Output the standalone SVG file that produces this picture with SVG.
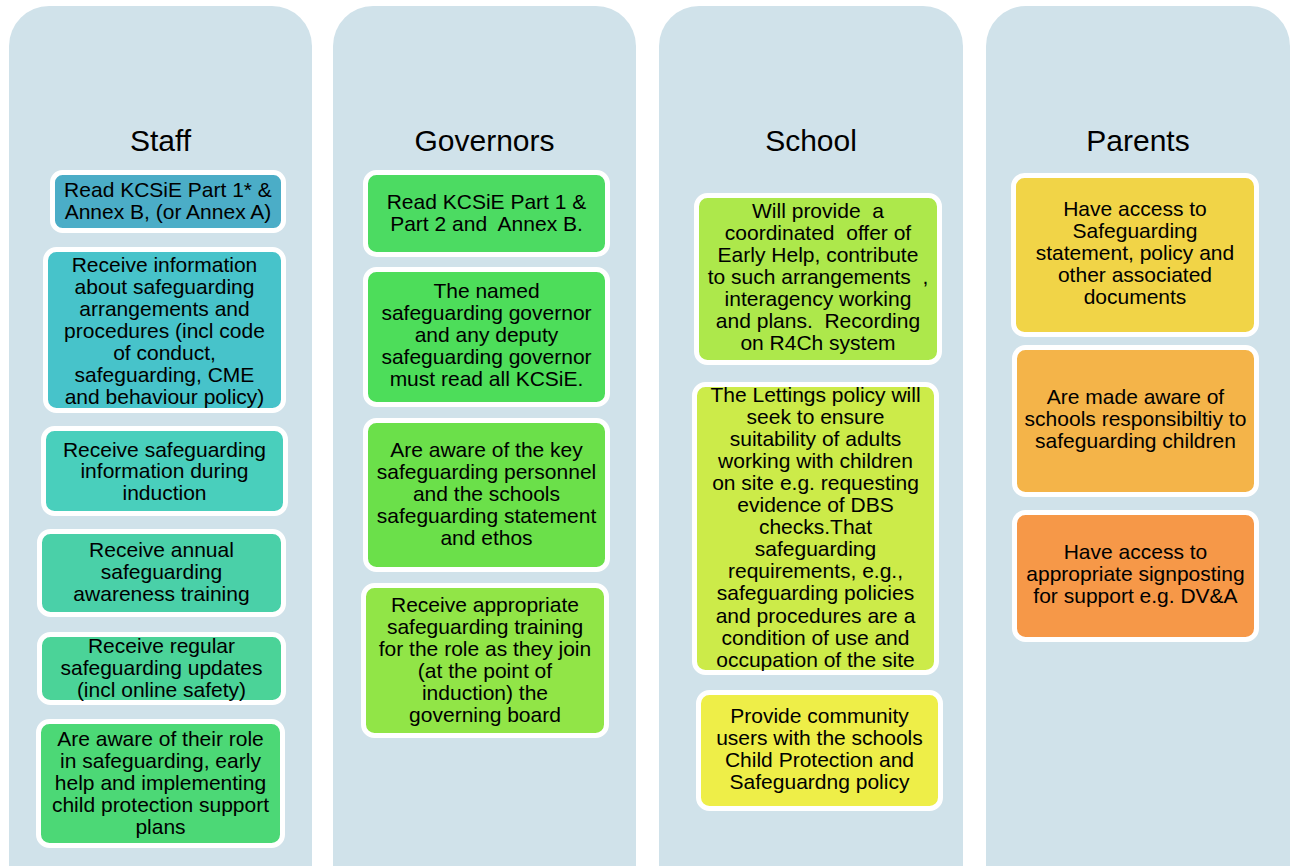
<svg xmlns="http://www.w3.org/2000/svg" width="1295" height="866" viewBox="0 0 1295 866">
<style>
.col{fill:#D0E2EA}
.title{font-family:"Liberation Sans",Arial,sans-serif;font-size:30px;fill:#000;text-anchor:middle}
.box{stroke:#fff;stroke-width:5}
.t{font-family:"Liberation Sans",Arial,sans-serif;font-size:21px;fill:#000;text-anchor:middle;white-space:pre}
</style>
<rect width="1295" height="866" fill="#fff"/>
<g id="columns">
<rect class="col" x="9" y="6" width="303" height="900" rx="40"/>
<rect class="col" x="333" y="6" width="303" height="900" rx="40"/>
<rect class="col" x="659" y="6" width="304" height="900" rx="40"/>
<rect class="col" x="986" y="6" width="304" height="900" rx="40"/>
</g>
<g id="titles">
<text class="title" x="160.5" y="151">Staff</text>
<text class="title" x="484.5" y="151">Governors</text>
<text class="title" x="811" y="151">School</text>
<text class="title" x="1138" y="151">Parents</text>
</g>
<g id="connectors"></g>
<g id="staff1"><rect class="box" x="52.5" y="172.5" width="231" height="58" rx="10" fill="#4BADC7"/>
<text class="t" y="197"><tspan x="168">Read KCSiE Part 1* &amp;</tspan><tspan x="168" dy="21.5">Annex B, (or Annex A)</tspan></text></g>
<g id="staff2"><rect class="box" x="45.5" y="249.5" width="238" height="161" rx="11" fill="#47C3CA"/>
<text class="t" y="271.7"><tspan x="164.5">Receive information</tspan><tspan x="164.5" dy="22">about safeguarding</tspan><tspan x="164.5" dy="22">arrangements and</tspan><tspan x="164.5" dy="22">procedures (incl code</tspan><tspan x="164.5" dy="22">of conduct,</tspan><tspan x="164.5" dy="22">safeguarding, CME</tspan><tspan x="164.5" dy="22">and behaviour policy)</tspan></text></g>
<g id="staff3"><rect class="box" x="43.5" y="428.5" width="242" height="85" rx="11" fill="#49CFBC"/>
<text class="t" y="456.7"><tspan x="164.5">Receive safeguarding</tspan><tspan x="164.5" dy="21.7">information during</tspan><tspan x="164.5" dy="21.7">induction</tspan></text></g>
<g id="staff4"><rect class="box" x="39.5" y="531.5" width="244" height="83" rx="11" fill="#4AD0A8"/>
<text class="t" y="557.3"><tspan x="161.5">Receive annual</tspan><tspan x="161.5" dy="22">safeguarding</tspan><tspan x="161.5" dy="22">awareness training</tspan></text></g>
<g id="staff5"><rect class="box" x="39.5" y="634.5" width="244" height="68" rx="11" fill="#4BD398"/>
<text class="t" y="653.3"><tspan x="161.5">Receive regular</tspan><tspan x="161.5" dy="21.7">safeguarding updates</tspan><tspan x="161.5" dy="21.7">(incl online safety)</tspan></text></g>
<g id="staff6"><rect class="box" x="38.5" y="721.5" width="244" height="124" rx="11" fill="#4CD876"/>
<text class="t" y="746"><tspan x="160.5">Are aware of their role</tspan><tspan x="160.5" dy="22">in safeguarding, early</tspan><tspan x="160.5" dy="22">help and implementing</tspan><tspan x="160.5" dy="22">child protection support</tspan><tspan x="160.5" dy="22">plans</tspan></text></g>
<g id="gov1"><rect class="box" x="365.5" y="172.5" width="242" height="82" rx="11" fill="#4CDB62"/>
<text class="t" y="209.3"><tspan x="486.5">Read KCSiE Part 1 &amp;</tspan><tspan x="486.5" dy="21.7">Part 2 and  Annex B.</tspan></text></g>
<g id="gov2"><rect class="box" x="365.5" y="269.5" width="242" height="135" rx="11" fill="#4DDD5A"/>
<text class="t" y="298.3"><tspan x="486.5">The named</tspan><tspan x="486.5" dy="22">safeguarding governor</tspan><tspan x="486.5" dy="22">and any deputy</tspan><tspan x="486.5" dy="22">safeguarding governor</tspan><tspan x="486.5" dy="22">must read all KCSiE.</tspan></text></g>
<g id="gov3"><rect class="box" x="365.5" y="420.5" width="242" height="149" rx="11" fill="#6BE04A"/>
<text class="t" y="456.7"><tspan x="486.5">Are aware of the key</tspan><tspan x="486.5" dy="22">safeguarding personnel</tspan><tspan x="486.5" dy="22">and the schools</tspan><tspan x="486.5" dy="22">safeguarding statement</tspan><tspan x="486.5" dy="22">and ethos</tspan></text></g>
<g id="gov4"><rect class="box" x="363.5" y="585.5" width="243" height="150" rx="11" fill="#91E547"/>
<text class="t" y="611.7"><tspan x="485">Receive appropriate</tspan><tspan x="485" dy="22">safeguarding training</tspan><tspan x="485" dy="22">for the role as they join</tspan><tspan x="485" dy="22">(at the point of</tspan><tspan x="485" dy="22">induction) the</tspan><tspan x="485" dy="22">governing board</tspan></text></g>
<g id="school1"><rect class="box" x="696.5" y="195.5" width="243" height="167" rx="11" fill="#ADE84B"/>
<text class="t" y="218.3"><tspan x="818">Will provide  a</tspan><tspan x="818" dy="22">coordinated  offer of</tspan><tspan x="818" dy="22">Early Help, contribute</tspan><tspan x="818" dy="22">to such arrangements  ,</tspan><tspan x="818" dy="22">interagency working</tspan><tspan x="818" dy="22">and plans.  Recording</tspan><tspan x="818" dy="22">on R4Ch system</tspan></text></g>
<g id="school2"><rect class="box" x="694.5" y="384.5" width="242" height="288" rx="11" fill="#CCEB49"/>
<text class="t" y="401.7"><tspan x="815.5">The Lettings policy will</tspan><tspan x="815.5" dy="22.08">seek to ensure</tspan><tspan x="815.5" dy="22.08">suitability of adults</tspan><tspan x="815.5" dy="22.08">working with children</tspan><tspan x="815.5" dy="22.08">on site e.g. requesting</tspan><tspan x="815.5" dy="22.08">evidence of DBS</tspan><tspan x="815.5" dy="22.08">checks.That</tspan><tspan x="815.5" dy="22.08">safeguarding</tspan><tspan x="815.5" dy="22.08">requirements, e.g.,</tspan><tspan x="815.5" dy="22.08">safeguarding policies</tspan><tspan x="815.5" dy="22.08">and procedures are a</tspan><tspan x="815.5" dy="22.08">condition of use and</tspan><tspan x="815.5" dy="22.08">occupation of the site</tspan></text></g>
<g id="school3"><rect class="box" x="698.5" y="692.5" width="242" height="116" rx="11" fill="#EEEE48"/>
<text class="t" y="723.3"><tspan x="819.5">Provide community</tspan><tspan x="819.5" dy="22">users with the schools</tspan><tspan x="819.5" dy="22">Child Protection and</tspan><tspan x="819.5" dy="22">Safeguardng policy</tspan></text></g>
<g id="parent1"><rect class="box" x="1013.5" y="175.5" width="243" height="159" rx="11" fill="#F1D447"/>
<text class="t" y="216"><tspan x="1135">Have access to</tspan><tspan x="1135" dy="22">Safeguarding</tspan><tspan x="1135" dy="22">statement, policy and</tspan><tspan x="1135" dy="22">other associated</tspan><tspan x="1135" dy="22">documents</tspan></text></g>
<g id="parent2"><rect class="box" x="1014.5" y="347.5" width="242" height="147" rx="11" fill="#F4B449"/>
<text class="t" y="404"><tspan x="1135.5">Are made aware of</tspan><tspan x="1135.5" dy="22">schools responsibiltiy to</tspan><tspan x="1135.5" dy="22">safeguarding children</tspan></text></g>
<g id="parent3"><rect class="box" x="1014.5" y="512.5" width="242" height="127" rx="11" fill="#F69848"/>
<text class="t" y="559.3"><tspan x="1135.5">Have access to</tspan><tspan x="1135.5" dy="22">appropriate signposting</tspan><tspan x="1135.5" dy="22">for support e.g. DV&amp;A</tspan></text></g>
</svg>
